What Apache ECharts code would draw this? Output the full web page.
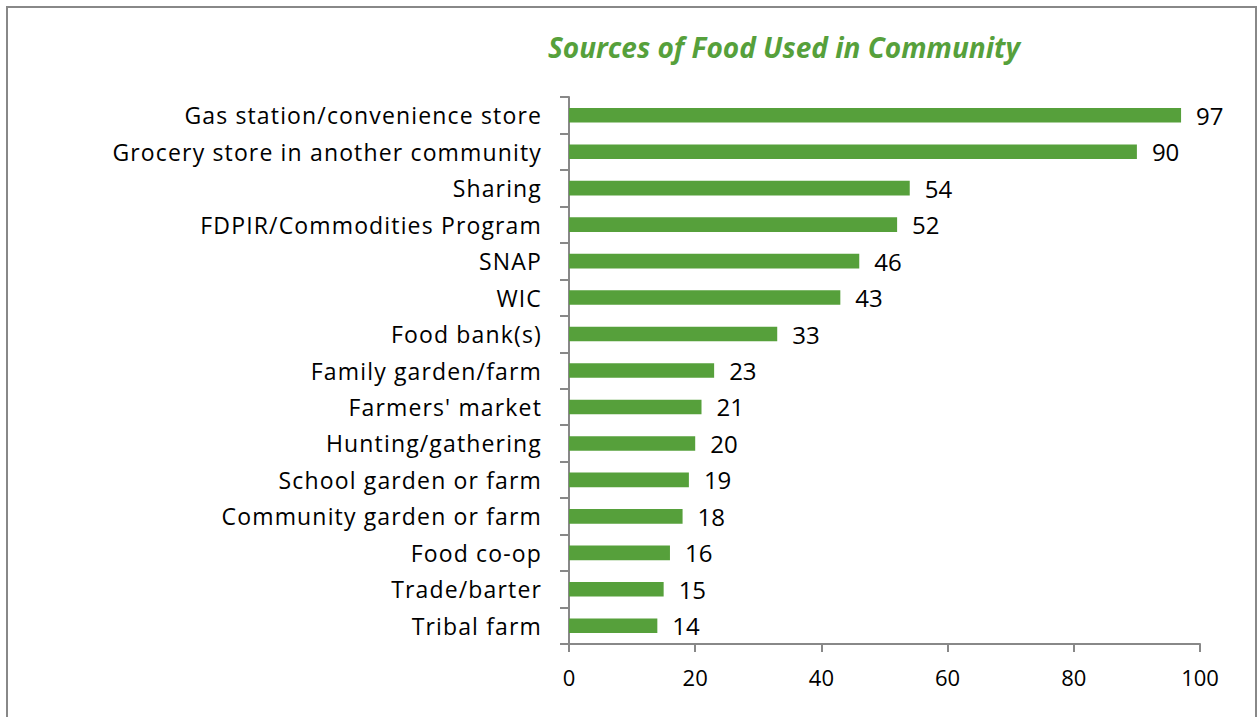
<!DOCTYPE html>
<html>
<head>
<meta charset="utf-8">
<script src="https://cdn.jsdelivr.net/npm/echarts@6/dist/echarts.min.js"></script>
<style>
  html, body { margin: 0; padding: 0; background: #fff; }
  #frame { position: absolute; left: 6px; top: 6px; width: 1251px; height: 720px; border: 2px solid #888; box-sizing: border-box; }
  #chart { position: absolute; left: 0; top: 0; width: 1260px; height: 717px; }
  /* category names are the only end-anchored texts; open them up a little */
  #chart svg text[text-anchor="end"] { letter-spacing: 1.15px; }
</style>
</head>
<body>
<div id="frame"></div>
<div id="chart"></div>
<script>
const titleText = 'Sources of Food Used in Community';
const categories = [
  'Gas station/convenience store',
  'Grocery store in another community',
  'Sharing',
  'FDPIR/Commodities Program',
  'SNAP',
  'WIC',
  'Food bank(s)',
  'Family garden/farm',
  "Farmers' market",
  'Hunting/gathering',
  'School garden or farm',
  'Community garden or farm',
  'Food co-op',
  'Trade/barter',
  'Tribal farm'
];
const values = [97, 90, 54, 52, 46, 43, 33, 23, 21, 20, 19, 18, 16, 15, 14];
const xTicks = { min: 0, max: 100, interval: 20 };

const font = '"Open Sans", "Liberation Sans", sans-serif';
const chart = echarts.init(document.getElementById('chart'), null, { renderer: 'svg' });
chart.setOption({
  animation: false,
  title: {
    text: titleText,
    left: 779,
    textAlign: 'center',
    top: 28,
    textStyle: { color: '#56A03B', fontStyle: 'italic', fontWeight: 'bold', fontSize: 28, fontFamily: font }
  },
  grid: { left: 569, right: 60, top: 97, bottom: 73, containLabel: false },
  xAxis: {
    type: 'value',
    min: xTicks.min, max: xTicks.max, interval: xTicks.interval,
    axisLine: { show: true, lineStyle: { color: '#888', width: 2 } },
    axisTick: { show: true, length: 8, lineStyle: { color: '#888', width: 2 } },
    splitLine: { show: false },
    axisLabel: { color: '#000', fontSize: 22, fontFamily: font, margin: 22 }
  },
  yAxis: {
    type: 'category',
    data: categories,
    inverse: true,
    axisLine: { show: true, lineStyle: { color: '#888', width: 2 } },
    axisTick: { show: true, length: 9, lineStyle: { color: '#888', width: 2 } },
    axisLabel: { color: '#000', fontSize: 23, fontFamily: font, margin: 27, padding: [0, 0, 4, 0] }
  },
  series: [{
    type: 'bar',
    data: values,
    barCategoryGap: '60%',
    itemStyle: { color: '#56A03B' },
    label: {
      show: true, position: 'right', distance: 15,
      color: '#000', fontSize: 24, fontFamily: font
    }
  }]
});
</script>
</body>
</html>
